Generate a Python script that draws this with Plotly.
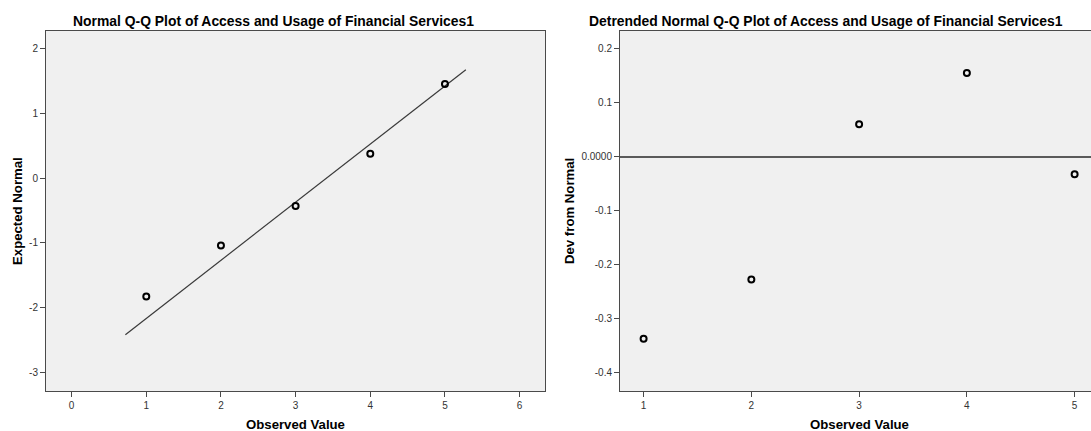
import plotly.graph_objects as go

# Sample data: observed scores and their normal scores
observed = [1, 2, 3, 4, 5]
expected_normal = [-1.83, -1.04, -0.43, 0.38, 1.46]
dev_from_normal = [-0.338, -0.228, 0.060, 0.155, -0.033]

# Fitted normal reference line (sample mean / sd)
sample_mean = 3.412
sample_sd = 1.113
line_x = [0.72, 5.28]
line_y = [(v - sample_mean) / sample_sd for v in line_x]

# Tick labels (plain hyphen for negatives)
left_x_ticks = [0, 1, 2, 3, 4, 5, 6]
left_y_ticks = [-3, -2, -1, 0, 1, 2]
left_y_text = ["-3", "-2", "-1", "0", "1", "2"]
right_x_ticks = [1, 2, 3, 4, 5]
right_y_ticks = [-0.4, -0.3, -0.2, -0.1, 0.0, 0.1, 0.2]
right_y_text = ["-0.4", "-0.3", "-0.2", "-0.1", "0.0000", "0.1", "0.2"]

W, H = 1091, 431
FONT = "Liberation Sans, Arial, sans-serif"
FRAME = "#4a4a4a"
TICKFONT = dict(family=FONT, size=10, color="#333333")
TITLEFONT = dict(family=FONT, size=13.9, color="#000000")
AXTITLEFONT = dict(family=FONT, size=13.2, color="#000000")


def px_x(p):
    return p / W


def px_y(p):
    return 1 - p / H


marker = dict(symbol="circle-open", size=6, color="#000000",
              line=dict(width=2, color="#000000"))

fig = go.Figure()

fig.add_trace(go.Scatter(x=line_x, y=line_y, mode="lines",
                         line=dict(color="#3a3a3a", width=1.2),
                         xaxis="x", yaxis="y", showlegend=False,
                         hoverinfo="skip"))
fig.add_trace(go.Scatter(x=observed, y=expected_normal, mode="markers",
                         marker=marker, xaxis="x", yaxis="y",
                         showlegend=False))
fig.add_trace(go.Scatter(x=observed, y=dev_from_normal, mode="markers",
                         marker=marker, xaxis="x2", yaxis="y2",
                         showlegend=False))

axis_common = dict(showgrid=False, showline=True, linecolor=FRAME,
                   linewidth=1, ticks="outside", ticklen=5,
                   tickcolor=FRAME, tickwidth=1, tickfont=TICKFONT)

ydom = [px_y(391), px_y(31)]

fig.update_layout(
    width=W, height=H,
    margin=dict(l=0, r=0, t=0, b=0),
    paper_bgcolor="#ffffff",
    plot_bgcolor="#f0f0f0",
    xaxis=dict(domain=[px_x(46), px_x(545)], range=[-0.343, 6.34],
               tickvals=left_x_ticks, mirror=True, anchor="y",
               zeroline=False, **axis_common),
    yaxis=dict(domain=ydom, range=[-3.29, 2.278], tickvals=left_y_ticks,
               ticktext=left_y_text, mirror=True, anchor="x",
               zeroline=False, **axis_common),
    xaxis2=dict(domain=[px_x(620), 1.0], range=[0.781, 5.152],
                tickvals=right_x_ticks, mirror=True, anchor="y2",
                zeroline=False, **axis_common),
    yaxis2=dict(domain=ydom, range=[-0.435, 0.233],
                tickvals=right_y_ticks, ticktext=right_y_text,
                mirror=False, anchor="x2",
                zeroline=True, zerolinecolor="#5a5a5a", zerolinewidth=1.5,
                **axis_common),
)

annotations = [
    dict(text="<b>Normal Q-Q Plot of Access and Usage of Financial Services1</b>",
         x=px_x(273), y=px_y(21), font=TITLEFONT),
    dict(text="<b>Detrended Normal Q-Q Plot of Access and Usage of Financial Services1</b>",
         x=px_x(826), y=px_y(21), font=TITLEFONT),
    dict(text="<b>Observed Value</b>", x=px_x(295.5), y=px_y(424),
         font=AXTITLEFONT),
    dict(text="<b>Observed Value</b>", x=px_x(860), y=px_y(424),
         font=AXTITLEFONT),
    dict(text="<b>Expected Normal</b>", x=px_x(17), y=px_y(211), textangle=-90,
         font=AXTITLEFONT),
    dict(text="<b>Dev from Normal</b>", x=px_x(569), y=px_y(211), textangle=-90,
         font=AXTITLEFONT),
]
for a in annotations:
    a.update(xref="paper", yref="paper", showarrow=False,
             xanchor="center", yanchor="middle")
fig.update_layout(annotations=annotations)

fig.write_html("out.html")
